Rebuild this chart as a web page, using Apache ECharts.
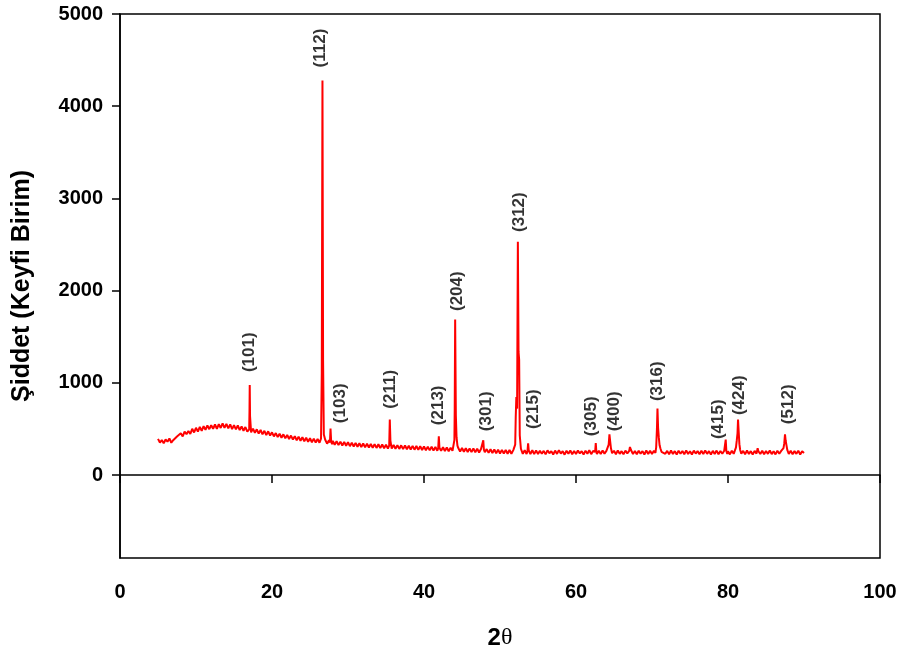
<!DOCTYPE html>
<html>
<head>
<meta charset="utf-8">
<title>XRD</title>
<script src="https://cdn.jsdelivr.net/npm/echarts@6/dist/echarts.min.js"></script>
<style>
  html, body { margin: 0; padding: 0; background: #fff; }
  #chart { width: 902px; height: 655px; }
</style>
</head>
<body>
<div id="chart"></div>
<script>
// Diffraction scan, [2θ (deg), counts], split into ranges
const scan05to20 = [
  [5.00,392],[5.25,352],[5.50,379],[5.75,344],
  [6.00,385],[6.25,362],[6.50,397],[6.75,350],
  [7.00,378],[7.25,361],[7.50,418],[7.75,403],
  [8.00,452],[8.25,418],[8.50,470],[8.75,443],
  [9.00,478],[9.25,445],[9.50,501],[9.75,462],
  [10.00,512],[10.25,471],[10.50,522],[10.75,478],
  [11.00,529],[11.25,491],[11.50,538],[11.75,497],
  [12.00,540],[12.25,502],[12.50,548],[12.75,501],
  [13.00,552],[13.25,510],[13.50,561],[13.75,512],
  [14.00,555],[14.25,506],[14.50,549],[14.75,498],
  [15.00,541],[15.25,495],[15.50,537],[15.75,488],
  [16.00,527],[16.25,480],[16.50,520],[16.75,470],
  [17.00,495],[17.04,700],[17.07,975],[17.11,640],[17.25,462],[17.50,503],[17.75,457],
  [18.00,496],[18.25,449],[18.50,488],[18.75,441],
  [19.00,479],[19.25,433],[19.50,474],[19.75,428]
];
const scan20to40 = [
  [20.00,463],[20.25,419],[20.50,455],[20.75,411],
  [21.00,447],[21.25,404],[21.50,441],[21.75,398],
  [22.00,434],[22.25,391],[22.50,428],[22.75,384],
  [23.00,421],[23.25,377],[23.50,416],[23.75,372],
  [24.00,410],[24.25,366],[24.50,404],[24.75,360],
  [25.00,399],[25.25,355],[25.50,395],[25.75,351],
  [26.00,391],[26.25,350],[26.45,395],[26.55,1100],[26.64,4280],[26.72,1250],[26.82,440],
  [27.00,383],[27.25,340],[27.50,378],[27.62,352],[27.70,505],[27.78,372],[27.90,334],
  [28.00,371],[28.25,328],[28.50,366],[28.75,324],
  [29.00,362],[29.25,320],[29.50,359],[29.75,317],
  [30.00,355],[30.25,313],[30.50,351],[30.75,309],
  [31.00,348],[31.25,306],[31.50,345],[31.75,303],
  [32.00,342],[32.25,300],[32.50,339],[32.75,298],
  [33.00,337],[33.25,296],[33.50,335],[33.75,294],
  [34.00,333],[34.25,292],[34.50,331],[34.75,290],
  [35.00,329],[35.25,288],[35.42,318],[35.50,601],[35.58,372],[35.75,286],
  [36.00,326],[36.25,285],[36.50,324],[36.75,283],
  [37.00,322],[37.25,281],[37.50,320],[37.75,279],
  [38.00,318],[38.25,277],[38.50,316],[38.75,275],
  [39.00,314],[39.25,273],[39.50,312],[39.75,271]
];
const scan40to60 = [
  [40.00,310],[40.25,269],[40.50,308],[40.75,267],
  [41.00,306],[41.25,265],[41.50,304],[41.75,263],
  [41.87,290],[41.95,420],[42.03,296],[42.25,262],[42.50,301],[42.75,260],
  [43.00,299],[43.25,258],[43.50,297],[43.75,262],
  [44.00,380],[44.04,700],[44.10,1686],[44.19,650],[44.28,410],[44.40,318],[44.50,295],[44.75,254],
  [45.00,293],[45.25,252],[45.50,291],[45.75,250],
  [46.00,289],[46.25,248],[46.50,287],[46.75,246],
  [47.00,285],[47.25,244],[47.50,283],[47.72,268],[47.80,377],[47.88,276],
  [48.00,247],[48.25,281],[48.50,240],[48.75,279],
  [49.00,238],[49.25,277],[49.50,236],[49.75,275],
  [50.00,234],[50.25,273],[50.50,233],[50.75,272],
  [51.00,231],[51.25,271],[51.50,230],[51.75,270],
  [52.00,330],[52.07,630],[52.15,847],[52.25,720],[52.35,2529],[52.44,1335],[52.52,1250],[52.60,430],[52.75,285],
  [53.00,229],[53.25,269],[53.50,228],[53.62,262],[53.70,344],[53.78,266],
  [54.00,228],[54.25,268],[54.50,227],[54.75,267],
  [55.00,227],[55.25,264],[55.50,231],[55.75,262],
  [56.00,224],[56.25,268],[56.50,236],[56.75,259],
  [57.00,222],[57.25,265],[57.50,229],[57.75,270],
  [58.00,233],[58.25,258],[58.50,221],[58.75,263],
  [59.00,230],[59.25,267],[59.50,225],[59.75,261]
];
const scan60to90 = [
  [60.00,228],[60.25,266],[60.50,234],[60.75,258],
  [61.00,223],[61.25,264],[61.50,230],[61.75,269],
  [62.00,226],[62.25,260],[62.52,252],[62.60,347],[62.68,250],[62.75,228],
  [63.00,262],[63.25,227],[63.50,266],[63.75,232],
  [64.00,262],[64.20,272],[64.30,330],[64.40,442],[64.50,362],[64.60,290],[64.75,236],
  [65.00,263],[65.25,226],[65.50,267],[65.75,230],
  [66.00,259],[66.25,224],[66.50,265],[66.75,233],
  [67.00,262],[67.10,304],[67.25,268],[67.50,228],[67.75,261],
  [68.00,225],[68.25,264],[68.50,231],[68.75,258],
  [69.00,222],[69.25,266],[69.50,229],[69.75,262],
  [70.00,227],[70.25,263],[70.45,240],[70.55,300],[70.65,500],[70.72,720],[70.80,514],[70.90,405],[71.00,322],
  [71.10,290],[71.25,252],[71.50,268],[71.75,230],
  [72.00,262],[72.25,224],[72.50,266],[72.75,229],
  [73.00,259],[73.25,222],[73.50,264],[73.75,231],
  [74.00,261],[74.25,226],[74.50,267],[74.75,228],
  [75.00,258],[75.25,223],[75.50,265],[75.75,233],
  [76.00,260],[76.25,225],[76.50,263],[76.75,227],
  [77.00,266],[77.25,230],[77.50,259],[77.75,222],
  [78.00,262],[78.25,228],[78.50,265],[78.75,224],
  [79.00,260],[79.25,231],[79.50,263],[79.62,250],[79.70,384],[79.78,262],[79.90,228],
  [80.00,258],[80.25,224],[80.50,264],[80.75,230],
  [81.05,300],[81.15,372],[81.25,452],[81.32,601],[81.40,480],[81.50,335],[81.60,272],[81.75,232],
  [82.00,261],[82.25,226],[82.50,265],[82.75,229],
  [83.00,259],[83.25,223],[83.50,262],[83.75,232],[83.90,290],
  [84.00,258],[84.25,228],[84.50,264],[84.75,225],
  [85.00,260],[85.25,230],[85.50,266],[85.75,227],
  [86.00,258],[86.25,224],[86.50,263],[86.75,231],
  [87.00,262],[87.30,292],[87.40,340],[87.50,442],[87.58,377],[87.68,330],[87.80,272],
  [88.00,228],[88.25,262],[88.50,225],[88.75,259],
  [89.00,230],[89.25,264],[89.50,222],[89.75,257],
  [90.00,238]
];

// Miller indices of the indexed reflections
const hklNames = ['(101)','(112)','(103)','(211)','(213)','(204)','(301)','(312)',
                  '(215)','(305)','(400)','(316)','(415)','(424)','(512)'];
// Where each index label is centred, in axis units [2θ, counts]
const hklLabelAt = [
  [17.07,1332],[26.42,4631],[29.05,778],[35.63,930],[41.82,756],[44.32,1994],
  [48.14,691],[52.48,2851],[54.32,713],[61.96,637],[64.99,691],[70.65,1017],
  [78.68,605],[81.44,865],[87.89,767]
];

// Axis ticks
const xTicks = [0, 20, 40, 60, 80, 100];
const yTicks = [0, 1000, 2000, 3000, 4000, 5000];

const pattern = scan05to20.concat(scan20to40, scan40to60, scan60to90);
const labelData = hklLabelAt.map((p, i) => [p[0], p[1], hklNames[i]]);

const FONT = 'Arial, "Liberation Sans", Helvetica, sans-serif';
const chart = echarts.init(document.getElementById('chart'), null, { renderer: 'canvas' });

chart.setOption({
  backgroundColor: '#ffffff',
  animation: false,
  grid: {
    left: 120, right: 22, top: 14, bottom: 97,
    show: true, borderColor: '#000', borderWidth: 1.5, backgroundColor: 'transparent'
  },
  xAxis: {
    type: 'value', min: xTicks[0], max: xTicks[xTicks.length - 1], interval: 20,
    name: '2{t|θ}', nameLocation: 'middle', nameGap: 68,
    nameTextStyle: {
      fontFamily: FONT, fontWeight: 'bold', fontSize: 24, color: '#000',
      rich: { t: { fontFamily: '"Liberation Serif", "DejaVu Serif", serif', fontWeight: 'normal', fontSize: 24, color: '#000' } }
    },
    axisLine: { lineStyle: { color: '#000', width: 1.5 } },
    axisTick: { inside: false, length: 8, lineStyle: { color: '#000', width: 1.5 } },
    axisLabel: { fontFamily: FONT, fontWeight: 'bold', fontSize: 20, color: '#000', margin: 24 },
    splitLine: { show: false }
  },
  yAxis: {
    type: 'value', min: -900, max: 5000,
    name: 'Şiddet (Keyfi Birim)', nameLocation: 'middle', nameGap: 85, nameRotate: 90,
    nameTextStyle: { fontFamily: FONT, fontWeight: 'bold', fontSize: 25, color: '#000' },
    axisLine: { show: true, lineStyle: { color: '#000', width: 1.5 } },
    axisTick: { show: true, inside: false, length: 8, customValues: yTicks, lineStyle: { color: '#000', width: 1.5 } },
    axisLabel: {
      customValues: yTicks, formatter: (v) => String(v),
      fontFamily: FONT, fontWeight: 'bold', fontSize: 20, color: '#000', margin: 17
    },
    splitLine: { show: false }
  },
  series: [
    {
      type: 'line', data: pattern, showSymbol: false, symbol: 'none',
      lineStyle: { color: '#ff0000', width: 2 }, silent: true, z: 2
    },
    {
      type: 'scatter', data: labelData, symbolSize: 0, silent: true, z: 3,
      label: {
        show: true, position: 'inside', rotate: 90,
        formatter: (p) => p.value[2],
        fontFamily: FONT, fontWeight: 'bold', fontSize: 17, color: '#000'
      }
    }
  ]
});
</script>
</body>
</html>
